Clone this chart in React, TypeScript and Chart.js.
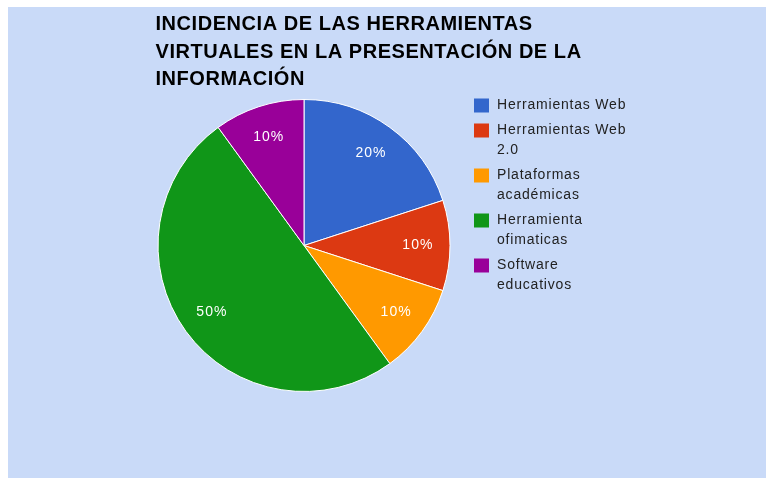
import React, { useEffect, useRef } from "react";
import { Chart, registerables } from "chart.js";

Chart.register(...registerables);

const TITLE_LINES = [
  "INCIDENCIA DE LAS HERRAMIENTAS",
  "VIRTUALES EN LA PRESENTACIÓN DE LA",
  "INFORMACIÓN",
];
const CATEGORIES = [
  "Herramientas Web",
  "Herramientas Web 2.0",
  "Plataformas académicas",
  "Herramienta ofimaticas",
  "Software educativos",
];
const VALUES = [20, 10, 10, 50, 10];
const COLORS = ["#3366cc", "#dc3912", "#ff9900", "#109618", "#990099"];

const FONT = "'Liberation Sans', Arial, sans-serif";

function wrapText(ctx: CanvasRenderingContext2D, text: string, maxWidth: number): string[] {
  const words = text.split(" ");
  const lines: string[] = [];
  let cur = "";
  for (const w of words) {
    const test = cur ? cur + " " + w : w;
    if (cur && ctx.measureText(test).width > maxWidth) {
      lines.push(cur);
      cur = w;
    } else {
      cur = test;
    }
  }
  if (cur) lines.push(cur);
  return lines;
}

const titlePlugin = {
  id: "customTitle",
  afterDraw(chart: any) {
    const ctx: CanvasRenderingContext2D = chart.ctx;
    ctx.save();
    ctx.font = `bold 20px ${FONT}`;
    (ctx as any).letterSpacing = "0.55px";
    ctx.fillStyle = "#000000";
    ctx.textAlign = "left";
    ctx.textBaseline = "alphabetic";
    TITLE_LINES.forEach((line, i) => {
      ctx.fillText(line, 147.5, 23 + i * 27.5);
    });
    (ctx as any).letterSpacing = "0px";
    ctx.restore();
  },
};

const sliceLabelPlugin = {
  id: "sliceLabels",
  afterDatasetsDraw(chart: any) {
    const ctx: CanvasRenderingContext2D = chart.ctx;
    const meta = chart.getDatasetMeta(0);
    const data: number[] = chart.data.datasets[0].data;
    const total = data.reduce((a, b) => a + b, 0);
    ctx.save();
    ctx.font = `14px ${FONT}`;
    (ctx as any).letterSpacing = "1px";
    ctx.fillStyle = "#ffffff";
    ctx.textAlign = "center";
    ctx.textBaseline = "middle";
    meta.data.forEach((arc: any, i: number) => {
      const { x, y, startAngle, endAngle, outerRadius } = arc.getProps(
        ["x", "y", "startAngle", "endAngle", "outerRadius"],
        true
      );
      const mid = (startAngle + endAngle) / 2;
      const r = outerRadius * 0.78;
      const pct = Math.round((data[i] / total) * 100) + "%";
      ctx.fillText(pct, x + Math.cos(mid) * r, y + Math.sin(mid) * r);
    });
    (ctx as any).letterSpacing = "0px";
    ctx.restore();
  },
};

const sideLegendPlugin = {
  id: "sideLegend",
  afterDraw(chart: any) {
    const ctx: CanvasRenderingContext2D = chart.ctx;
    const labels: string[] = chart.data.labels;
    const colors: string[] = chart.data.datasets[0].backgroundColor;
    ctx.save();
    ctx.font = `14px ${FONT}`;
    (ctx as any).letterSpacing = "0.8px";
    ctx.textAlign = "left";
    ctx.textBaseline = "middle";
    let yc = 98.5;
    const boxX = 466;
    const textX = 489;
    const lineH = 20;
    labels.forEach((label, i) => {
      ctx.fillStyle = colors[i];
      ctx.fillRect(boxX, yc - 7, 15, 14);
      ctx.fillStyle = "#222222";
      const lines = wrapText(ctx, label, 140);
      lines.forEach((ln, j) => {
        ctx.fillText(ln, textX, yc + j * lineH);
      });
      yc += lines.length * lineH + 5;
    });
    (ctx as any).letterSpacing = "0px";
    ctx.restore();
  },
};

export default function App() {
  const canvasRef = useRef<HTMLCanvasElement | null>(null);

  useEffect(() => {
    if (!canvasRef.current) return;
    const chart = new Chart(canvasRef.current, {
      type: "pie",
      data: {
        labels: CATEGORIES,
        datasets: [
          {
            data: VALUES,
            backgroundColor: COLORS,
            borderColor: "#ffffff",
            borderWidth: 1,
          },
        ],
      },
      options: {
        responsive: false,
        animation: false,
        layout: {
          padding: { left: 149.5, right: 315.5, top: 92, bottom: 86 },
        },
        plugins: {
          legend: { display: false },
          title: { display: false },
          tooltip: { enabled: false },
        },
      },
      plugins: [titlePlugin, sliceLabelPlugin, sideLegendPlugin],
    } as any);
    return () => chart.destroy();
  }, []);

  return (
    <div
      style={{
        position: "fixed",
        left: 8,
        top: 7,
        width: 758,
        height: 471,
        background: "#c9daf8",
      }}
    >
      <canvas
        ref={canvasRef}
        width={758}
        height={471}
        style={{ display: "block", width: 758, height: 471 }}
      />
    </div>
  );
}
